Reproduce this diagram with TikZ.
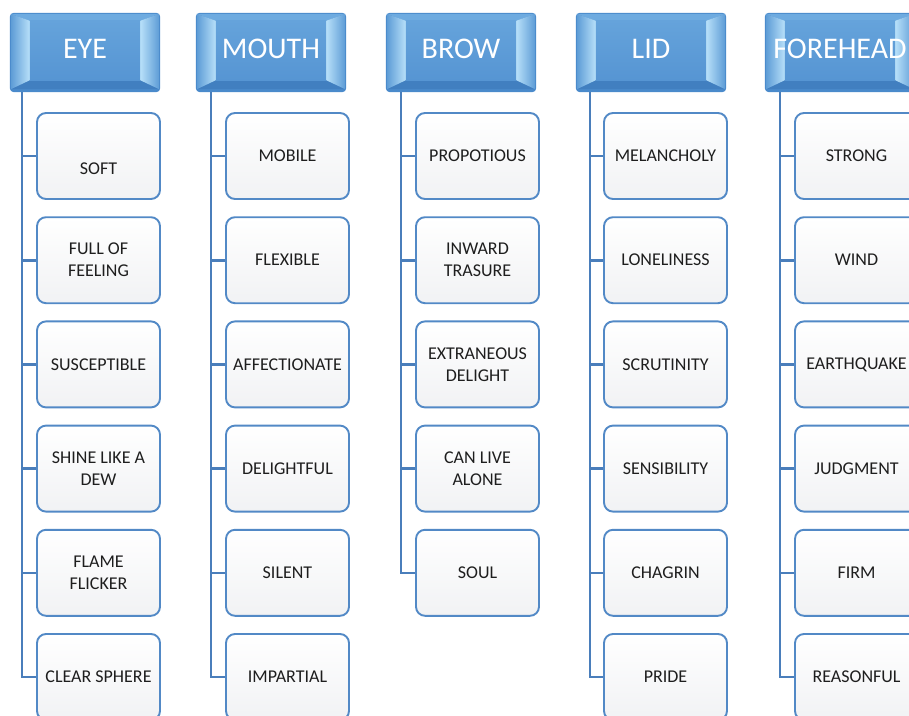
\documentclass[tikz,border=0pt]{standalone}
\usepackage{fontspec}
\setmainfont{Carlito}
\usetikzlibrary{calc}
\pgfdeclarelayer{background}
\pgfsetlayers{background,main}
\definecolor{hdrEdge}{HTML}{4A8ACB}
\definecolor{hdrTopBev}{HTML}{6EABE0}
\definecolor{hdrBotBev}{HTML}{417FC0}
\definecolor{hdrSide}{HTML}{5D9CD6}
\definecolor{hdrLight}{HTML}{B8E0F9}
\definecolor{hdrFaceT}{HTML}{65A3DB}
\definecolor{hdrFaceB}{HTML}{5695D3}
\definecolor{itemBorder}{HTML}{5289C6}
\definecolor{lineC}{HTML}{4A7EBB}
\definecolor{txtC}{HTML}{1E1E1E}
\definecolor{itemShade}{HTML}{F1F2F4}
\tikzset{
  hdr/.style={minimum width=150pt, minimum height=79pt, inner sep=0pt,
    text=white, font=\fontsize{30}{30}\selectfont, text height=19.5pt, text depth=8pt},
  item/.style={draw=itemBorder, line width=1.9pt, rounded corners=9pt,
    top color=white, bottom color=itemShade, minimum width=123pt, minimum height=86pt,
    inner sep=1pt, align=center, text=txtC, font=\fontsize{18}{22}\selectfont},
  conn/.style={draw=lineC, line width=2.6pt}
}
\newcommand\hdrbg[1]{%
  \begin{pgfonlayer}{background}
    \fill[hdrEdge, rounded corners=4pt] (#1.north west) rectangle (#1.south east);
    \fill[hdrTopBev] ([shift={(1,-1)}]#1.north west) -- ([shift={(-1,-1)}]#1.north east)
      -- ([shift={(-20,-8)}]#1.north east) -- ([shift={(20,-8)}]#1.north west) -- cycle;
    \fill[hdrBotBev] ([shift={(1,3)}]#1.south west) -- ([shift={(-1,3)}]#1.south east)
      -- ([shift={(-20,12)}]#1.south east) -- ([shift={(20,12)}]#1.south west) -- cycle;
    \shade[left color=hdrSide, right color=hdrLight] ([shift={(1,-1)}]#1.north west)
      -- ([shift={(20,-8)}]#1.north west) -- ([shift={(20,12)}]#1.south west)
      -- ([shift={(1,3)}]#1.south west) -- cycle;
    \shade[left color=hdrLight, right color=hdrSide] ([shift={(-1,-1)}]#1.north east)
      -- ([shift={(-20,-8)}]#1.north east) -- ([shift={(-20,12)}]#1.south east)
      -- ([shift={(-1,3)}]#1.south east) -- cycle;
    \shade[top color=hdrFaceT, bottom color=hdrFaceB] ([shift={(20,-8)}]#1.north west)
      rectangle ([shift={(-20,12)}]#1.south east);
  \end{pgfonlayer}}
% #1 name, #2 box left x, #3 row, #4 text
\newcommand\itm[4]{\node[item] (#1) at ({#2+61.5},{-156-104.2*(#3-1)}) {#4};}
% #1 header, #2 line offset from header left, #3 item
\newcommand\cn[3]{\draw[conn] ([xshift=#2pt]#1.south west) |- (#3.west);}
\begin{document}
\begin{tikzpicture}[x=1pt,y=1pt]
\useasboundingbox (0,0) rectangle (909,-715);
\clip (0,0) rectangle (909,-715);
% headers
\node[hdr] (h1) at (85,-52.5) {EYE};
\node[hdr] (h2) at (271,-52.5) {MOUTH};
\node[hdr] (h3) at (461,-52.5) {BROW};
\node[hdr] (h4) at (651,-52.5) {LID};
\node[hdr] (h5) at (840,-52.5) {FOREHEAD};
\hdrbg{h1}\hdrbg{h2}\hdrbg{h3}\hdrbg{h4}\hdrbg{h5}
% EYE
\itm{a1}{37}{1}{\raisebox{-18pt}[0pt][0pt]{SOFT}}
\itm{a2}{37}{2}{FULL OF\\FEELING}
\itm{a3}{37}{3}{SUSCEPTIBLE}
\itm{a4}{37}{4}{SHINE LIKE A\\DEW}
\itm{a5}{37}{5}{FLAME\\FLICKER}
\itm{a6}{37}{6}{CLEAR SPHERE}
% MOUTH
\itm{b1}{226}{1}{MOBILE}
\itm{b2}{226}{2}{FLEXIBLE}
\itm{b3}{226}{3}{AFFECTIONATE}
\itm{b4}{226}{4}{DELIGHTFUL}
\itm{b5}{226}{5}{SILENT}
\itm{b6}{226}{6}{IMPARTIAL}
% BROW
\itm{c1}{416}{1}{PROPOTIOUS}
\itm{c2}{416}{2}{INWARD\\TRASURE}
\itm{c3}{416}{3}{EXTRANEOUS\\DELIGHT}
\itm{c4}{416}{4}{CAN LIVE\\ALONE}
\itm{c5}{416}{5}{SOUL}
% LID
\itm{d1}{604}{1}{MELANCHOLY}
\itm{d2}{604}{2}{LONELINESS}
\itm{d3}{604}{3}{SCRUTINITY}
\itm{d4}{604}{4}{SENSIBILITY}
\itm{d5}{604}{5}{CHAGRIN}
\itm{d6}{604}{6}{PRIDE}
% FOREHEAD
\itm{e1}{795}{1}{STRONG}
\itm{e2}{795}{2}{WIND}
\itm{e3}{795}{3}{EARTHQUAKE}
\itm{e4}{795}{4}{JUDGMENT}
\itm{e5}{795}{5}{FIRM}
\itm{e6}{795}{6}{REASONFUL}
% connectors
\begin{pgfonlayer}{background}
\foreach \k in {1,...,6}{\cn{h1}{12}{a\k}\cn{h2}{15}{b\k}\cn{h4}{14}{d\k}\cn{h5}{15}{e\k}}
\foreach \k in {1,...,5}{\cn{h3}{15}{c\k}}
\end{pgfonlayer}
\end{tikzpicture}
\end{document}
